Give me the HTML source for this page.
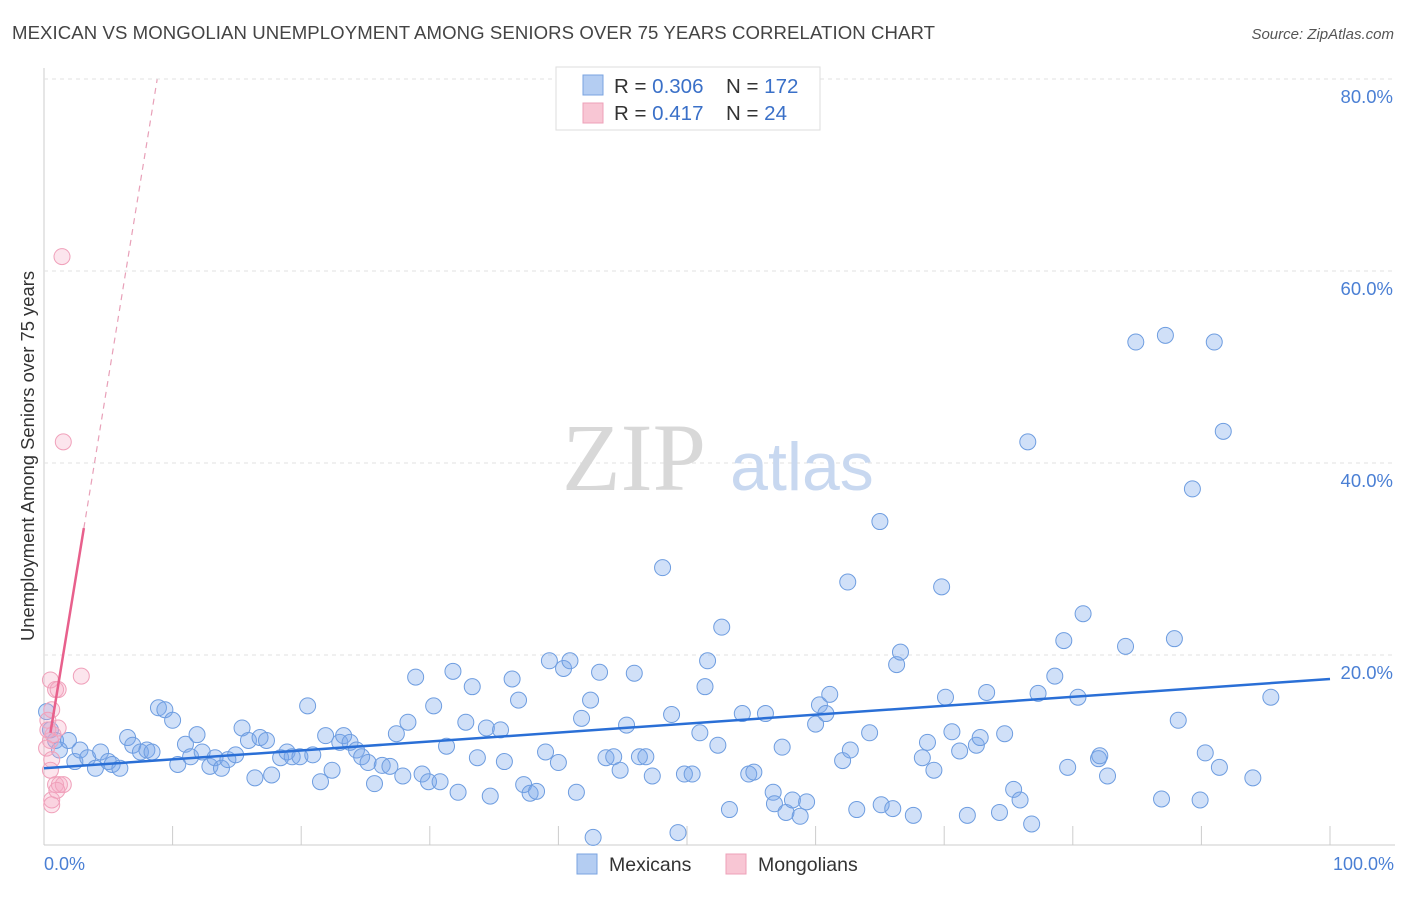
<!DOCTYPE html>
<html><head><meta charset="utf-8"><style>
body{margin:0;background:#fff;font-family:"Liberation Sans",sans-serif;}
svg text{font-family:"Liberation Sans",sans-serif;}
</style></head><body>
<svg id="chart" width="1406" height="892">
<text x="12" y="39" font-size="18.6" fill="#444" textLength="923">MEXICAN VS MONGOLIAN UNEMPLOYMENT AMONG SENIORS OVER 75 YEARS CORRELATION CHART</text>
<text x="1394" y="39" font-size="15" fill="#555" text-anchor="end" font-style="italic">Source: ZipAtlas.com</text>
<g id="grid"></g>
<text x="634" y="490" font-size="96" fill="#d8d8d8" text-anchor="middle" style="font-family:'Liberation Serif',serif">ZIP</text>
<text x="802" y="490" font-size="68" fill="#c8d8f0" text-anchor="middle">atlas</text>
<g id="points"></g>
<g id="lines"></g>
<text transform="translate(34,456) rotate(-90)" font-size="18.4" fill="#333" text-anchor="middle">Unemployment Among Seniors over 75 years</text>
<text x="44" y="870" font-size="18" fill="#4a7fd4">0.0%</text>
<text x="1394" y="870" font-size="18" fill="#4a7fd4" text-anchor="end">100.0%</text>
<g>
<rect x="556" y="67" width="264" height="63" fill="#fff" stroke="#ddd"/>
<rect x="583" y="75" width="20" height="20" fill="#b4cdf2" stroke="#7aa3e0"/>
<rect x="583" y="103" width="20" height="20" fill="#f8c6d4" stroke="#eea0b8"/>
<text x="614" y="93" font-size="20.5" fill="#333">R = <tspan fill="#3a70c8">0.306</tspan></text>
<text x="726" y="93" font-size="20.5" fill="#333">N = <tspan fill="#3a70c8">172</tspan></text>
<text x="614" y="120" font-size="20.5" fill="#333">R = <tspan fill="#3a70c8"> 0.417</tspan></text>
<text x="726" y="120" font-size="20.5" fill="#333">N = <tspan fill="#3a70c8"> 24</tspan></text>
</g>
<g>
<rect x="577" y="854" width="20" height="20" fill="#b4cdf2" stroke="#7aa3e0"/>
<text x="609" y="871" font-size="19.5" fill="#333">Mexicans</text>
<rect x="726" y="854" width="20" height="20" fill="#f8c6d4" stroke="#eea0b8"/>
<text x="758" y="871" font-size="19.5" fill="#333">Mongolians</text>
</g>
</svg>
<script>
const yTicks=[20,40,60,80];
const xTickVals=[10,20,30,40,50,60,70,80,90,100];
const blueX=[0.2,0.5,0.9,1.2,1.9,2.4,2.8,3.4,4.0,4.4,5.0,5.3,5.9,6.5,6.9,7.5,8.0,8.4,8.9,9.4,10.0,10.4,11.0,11.4,11.9,12.3,12.9,13.3,13.8,14.3,14.9,15.4,15.9,16.4,16.8,17.3,17.7,18.4,18.9,19.3,19.9,20.5,20.9,21.5,21.9,22.4,23.0,23.3,23.8,24.3,24.7,25.2,25.7,26.3,26.9,27.4,27.9,28.3,28.9,29.4,29.9,30.3,30.8,31.3,31.8,32.2,32.8,33.3,33.7,34.4,34.7,35.5,35.8,36.4,36.9,37.3,37.8,38.3,39.0,39.3,40.0,40.4,40.9,41.4,41.8,42.5,42.7,43.2,43.7,44.3,44.8,45.3,45.9,46.3,46.8,47.3,48.1,48.8,49.3,49.8,50.4,51.0,51.4,51.6,52.4,52.7,53.3,54.3,54.8,55.2,56.1,56.7,56.8,57.4,57.7,58.2,58.8,59.3,60.0,60.3,60.8,61.1,62.1,62.5,62.7,63.2,64.2,65.0,65.1,66.0,66.3,66.6,67.6,68.3,68.7,69.2,69.8,70.1,70.6,71.2,71.8,72.5,72.8,73.3,74.3,74.7,75.4,75.9,76.5,76.8,77.3,78.6,79.3,79.6,80.4,80.8,82.0,82.1,82.7,84.1,84.9,86.9,87.2,87.9,88.2,89.3,89.9,90.3,91.0,91.4,91.7,94.0,95.4];
const blueY=[14.1,12.2,11.1,10.1,11.1,8.9,10.1,9.3,8.2,9.9,8.9,8.6,8.2,11.4,10.6,9.9,10.1,9.9,14.5,14.3,13.2,8.6,10.7,9.4,11.7,9.9,8.4,9.3,8.2,9.1,9.6,12.4,11.1,7.2,11.4,11.1,7.5,9.3,9.9,9.4,9.4,14.7,9.6,6.8,11.6,8.0,10.9,11.6,10.9,10.1,9.4,8.8,6.6,8.5,8.4,11.8,7.4,13.0,17.7,7.6,6.8,14.7,6.8,10.5,18.3,5.7,13.0,16.7,9.3,12.4,5.3,12.2,8.9,17.5,15.3,6.5,5.6,5.8,9.9,19.4,8.8,18.6,19.4,5.7,13.4,15.3,1.0,18.2,9.3,9.4,8.0,12.7,18.1,9.4,9.4,7.4,29.1,13.8,1.5,7.6,7.6,11.9,16.7,19.4,10.6,22.9,3.9,13.9,7.6,7.8,13.9,5.7,4.5,10.4,3.6,4.9,3.2,4.7,12.8,14.8,13.9,15.9,9.0,27.6,10.1,3.9,11.9,33.9,4.4,4.0,19.0,20.3,3.3,9.3,10.9,8.0,27.1,15.6,12.0,10.0,3.3,10.6,11.4,16.1,3.6,11.8,6.0,4.9,42.2,2.4,16.0,17.8,21.5,8.3,15.6,24.3,9.2,9.5,7.4,20.9,52.6,5.0,53.3,21.7,13.2,37.3,4.9,9.8,52.6,8.3,43.3,7.2,15.6];
const pinkX=[0.5,0.6,0.3,0.9,1.1,0.5,0.7,0.2,0.6,0.5,0.9,1.2,1.5,0.6,1.0,1.4,1.5,2.9,1.1,0.3,0.6];
const pinkY=[17.4,14.3,13.2,16.4,16.4,11.1,11.7,10.3,9.1,8.0,6.5,6.5,6.5,4.9,5.9,61.5,42.2,17.8,12.4,12.2,4.4];
const blueTrend=[8.2,17.5];
const pinkTrend=[7.8,8.2];
const X0=44,X1=1330,Y0=847,PXY=9.6;
function sx(v){return X0+(X1-X0)*v/100;}
function sy(v){return Y0-v*PXY;}
const NS="http://www.w3.org/2000/svg";
function mk(tag,attrs,parent){const e=document.createElementNS(NS,tag);for(const k in attrs)e.setAttribute(k,attrs[k]);parent.appendChild(e);return e;}
const grid=document.getElementById('grid');
const ax=mk('line',{x1:44,y1:68,x2:44,y2:845,stroke:'#ccc'},grid);


const bx=mk('line',{x1:44,y1:845,x2:1395,y2:845,stroke:'#ccc'},grid);


yTicks.forEach(t=>{
 const l=mk('line',{x1:44,y1:sy(t),x2:1395,y2:sy(t),stroke:'#e2e2e2','stroke-dasharray':'4,4'},grid);
 
 
 const tx=mk('text',{x:1393,y:sy(t)+24,'font-size':18.5,fill:'#4a7fd4','text-anchor':'end'},grid);
 tx.textContent=t.toFixed(1)+'%';
 
 
});
xTickVals.forEach(t=>{
 const l=mk('line',{x1:sx(t),y1:826,x2:sx(t),y2:845,stroke:'#ccc'},grid);
 
 
});
const pts=document.getElementById('points');
blueX.forEach((x,i)=>{
 const c=mk('circle',{cx:sx(x),cy:sy(blueY[i]),r:8,fill:'rgba(120,165,235,0.35)',stroke:'#6e9de0','stroke-width':1},pts);
 
 
});
pinkX.forEach((x,i)=>{
 const c=mk('circle',{cx:sx(x),cy:sy(pinkY[i]),r:8,fill:'rgba(245,170,195,0.3)',stroke:'#f0a0ba','stroke-width':1},pts);
 
 
});
const lines=document.getElementById('lines');
const bl=mk('line',{x1:sx(0),y1:sy(blueTrend[0]),x2:sx(100),y2:sy(blueTrend[1]),stroke:'#2a6fd6','stroke-width':2.5},lines);


function pf(x){return pinkTrend[0]+pinkTrend[1]*x;}
const pl=mk('line',{x1:sx(0.5),y1:sy(pf(0.5)),x2:sx(3.1),y2:sy(pf(3.1)),stroke:'#e8608c','stroke-width':2.5},lines);


const pd=mk('line',{x1:sx(3.1),y1:sy(pf(3.1)),x2:sx(8.8),y2:sy(pf(8.8)),stroke:'#e8a0b8','stroke-width':1.2,'stroke-dasharray':'6,5'},lines);


</script>
</body></html>
